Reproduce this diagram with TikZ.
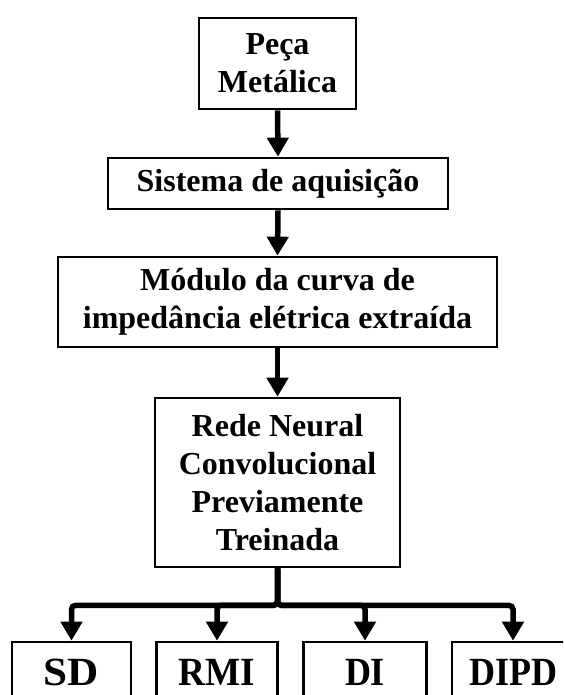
\documentclass[tikz,border=0pt]{standalone}
\usepackage{fontspec}
\setmainfont{Liberation Serif}
\usetikzlibrary{arrows.meta}
\begin{document}
\begin{tikzpicture}[x=1pt,y=-1pt,
  box/.style={draw, line width=2.7pt, inner sep=0pt, align=center,
    font=\fontsize{32}{38}\selectfont\bfseries},
  outbox/.style={box, minimum height=60pt, font=\fontsize{40}{44}\selectfont\bfseries},
  arr/.style={line width=5.5pt, rounded corners=4pt,
    -{Triangle[width=21pt,length=19pt]}}]
\useasboundingbox (0,0) rectangle (563,695);
\clip (0,0) rectangle (563,695);
\node[box, minimum width=157pt, minimum height=91pt] (b1) at (277.5,63.5) {Peça\\Metálica};
\node[box, minimum width=340pt, minimum height=51pt] (b2) at (278,183.5) {Sistema de aquisição};
\node[box, minimum width=439pt, minimum height=90pt] (b3) at (277.5,302) {Módulo da curva de\\impedância elétrica extraída};
\node[box, minimum width=245pt, minimum height=169pt] (b4) at (277.5,482.5) {Rede Neural\\Convolucional\\Previamente\\Treinada};
\node[outbox, minimum width=119pt] (sd) at (71.5,672) {\scalebox{1.08}[1]{SD}};
\node[outbox, minimum width=121pt] (rmi) at (217,672) {\scalebox{0.93}[1]{RMI}};
\node[outbox, minimum width=123pt] (di) at (365,672) {\scalebox{0.9}[1]{DI}};
\node[outbox, minimum width=122pt] (dipd) at (513,672) {\scalebox{0.9}[1]{DIPD}};
\draw[arr] (b1.south) -- (b2.north);
\draw[arr] (b2.south) -- (b3.north);
\draw[arr] (b3.south) -- (b4.north);
\draw[arr] (b4.south) -- ++(0,37) -| (sd.north);
\draw[arr] (b4.south) -- ++(0,37) -| (rmi.north);
\draw[arr] (b4.south) -- ++(0,37) -| (di.north);
\draw[arr] (b4.south) -- ++(0,37) -| (dipd.north);
\end{tikzpicture}
\end{document}
